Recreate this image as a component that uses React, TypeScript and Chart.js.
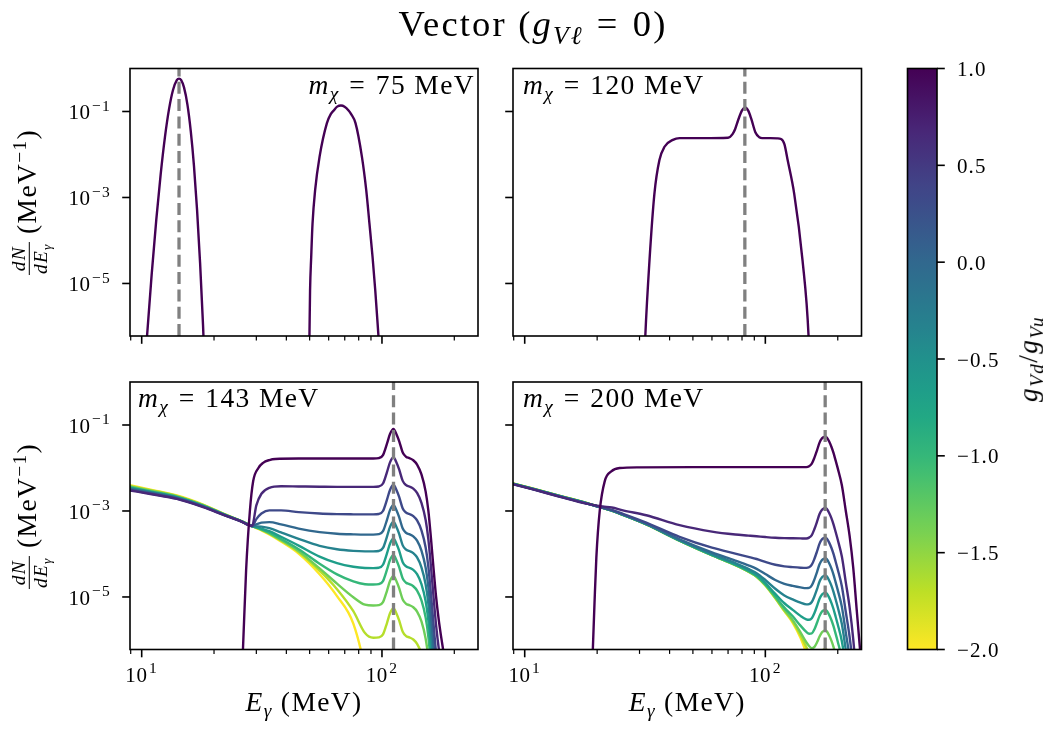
import React, { useEffect, useRef } from 'react';
import { Chart, registerables } from 'chart.js';

Chart.register(...registerables);

// ---------------- figure / axis settings ----------------
const W = 1043;
const H = 729;
const FONT = "'Liberation Serif', 'DejaVu Serif', serif";
const TICK_FS = 21;
const SUP_FS = 15.5;

const X_MIN = 8.94;
const X_MAX = 251;
const Y_MIN = 6e-7;
const Y_MAX = 1;
const X_MAJOR_TICKS = [10, 100];
const X_TICK_EXPONENTS = ['1', '2'];
const X_MINOR_TICKS = [9, 20, 30, 40, 50, 60, 70, 80, 90, 200];
const Y_TICKS = [1e-1, 1e-3, 1e-5];
const Y_TICK_EXPONENTS = ['\u22121', '\u22123', '\u22125'];

// colour bar
const CB_RANGE = [-2, 1];
const CB_TICKS = [1.0, 0.5, 0.0, -0.5, -1.0, -1.5, -2.0];
const CB_TICK_LABELS = ['1.0', '0.5', '0.0', '\u22120.5', '\u22121.0', '\u22121.5', '\u22122.0'];

// g_Vd / g_Vu values of the curves and their colours (viridis_r)
const G_RATIOS = [1, 0.667, 0.333, 0, -0.333, -0.667, -1, -1.333, -1.667, -2];
const CURVE_COLORS = ['#440154', '#482878', '#3e4989', '#31688e', '#26828e', '#1f9e89', '#35b779', '#6ece58', '#b5de2b', '#fde725'];

const MASSES = [75, 120, 143, 200];
const LINE_ENERGIES = [14.3, 82.2, 111.7, 177.3];

// ---------------- m_chi = 75 MeV (log10 dN/dE) ----------------
const TL_E = [10.2, 10.4, 11, 11.5, 12, 12.5, 13, 13.5, 14, 14.3, 14.6, 15, 15.5, 16, 16.5, 17, 17.5, 18, 18.4, 25, 40, 49.5, 49.9, 50.2, 50.75, 51.4, 52.7, 55, 59, 61.3, 63, 65.1, 67.5, 69.9, 72.6, 74.3, 77.6, 82.5, 86, 88.7, 91.4, 93.8, 96.8, 100.3];
const TL_G100 = [-7.3, -6.61, -4.8, -3.52, -2.45, -1.59, -0.94, -0.5, -0.27, -0.235, -0.27, -0.44, -0.84, -1.45, -2.26, -3.29, -4.52, -5.97, -7.28, -10, -10, -7.5, -6.26, -5.17, -4.39, -3.61, -2.83, -2.05, -1.27, -1.055, -0.976, -0.887, -0.86, -0.887, -0.976, -1.055, -1.27, -2.05, -2.83, -3.61, -4.39, -5.17, -6.26, -7.5];

// ---------------- m_chi = 120 MeV ----------------
const TR_E = [31.2, 31.7, 33, 34.6, 36.3, 38.1, 41.3, 44, 55, 70, 73.2, 75, 77, 80, 82.4, 85, 87.5, 91, 94.4, 97, 105, 112, 116.2, 120, 123.8, 131.8, 142.8, 151.3, 153.5];
const TR_G100 = [-7.3, -6.24, -4.47, -2.91, -2.13, -1.82, -1.66, -1.62, -1.62, -1.61, -1.52, -1.4, -1.21, -0.975, -0.906, -0.985, -1.18, -1.49, -1.6, -1.62, -1.62, -1.625, -1.64, -1.76, -2.13, -2.91, -4.47, -6.24, -7.3];

// ---------------- m_chi = 143 MeV ----------------
const BL1_E = [25.5, 26.4, 27.2, 28.2, 29.1, 30.6, 32, 34, 36, 45, 60, 76, 92, 97, 101, 105, 108, 111.7, 115, 118, 122, 126, 130, 135, 140, 146, 152, 156, 160, 164, 168, 172, 176, 180, 184];
const BL1_G100 = [-8, -6.2, -4.38, -3.0, -2.31, -2.0, -1.88, -1.815, -1.79, -1.78, -1.78, -1.78, -1.78, -1.77, -1.7, -1.43, -1.21, -1.09, -1.22, -1.38, -1.64, -1.74, -1.77, -1.82, -1.92, -2.15, -2.55, -3.0, -3.65, -4.35, -5.0, -5.5, -5.9, -6.25, -6.6];

const BL_E = [8.9, 11, 14, 18, 22, 26, 28.8, 30, 31.5, 34, 38, 45, 55, 65, 76, 85, 92, 97, 101, 105, 108, 111.7, 115, 118, 122, 126, 130, 135, 140, 146, 152, 156, 160, 164, 168, 172, 176, 180, 184];
const BL_G067 = [-2.52, -2.61, -2.72, -2.91, -3.095, -3.245, -3.35, -2.87, -2.6, -2.46, -2.425, -2.43, -2.436, -2.44, -2.44, -2.44, -2.44, -2.43, -2.36, -2.09, -1.87, -1.75, -1.88, -2.04, -2.3, -2.4, -2.43, -2.48, -2.58, -2.81, -3.21, -3.66, -4.31, -5.01, -5.66, -6.16, -6.56, -6.91, -7.26];
const BL_G033 = [-2.505, -2.6, -2.71, -2.9, -3.09, -3.244, -3.35, -3.19, -3.06, -2.985, -2.985, -3.026, -3.06, -3.073, -3.078, -3.08, -3.08, -3.07, -3.0, -2.73, -2.51, -2.39, -2.52, -2.68, -2.94, -3.04, -3.07, -3.12, -3.22, -3.45, -3.85, -4.3, -4.95, -5.65, -6.3, -6.8, -7.2, null, null];
const BL_G000 = [-2.49, -2.585, -2.7, -2.895, -3.088, -3.243, -3.35, -3.31, -3.27, -3.26, -3.31, -3.41, -3.492, -3.529, -3.544, -3.55, -3.55, -3.54, -3.47, -3.2, -2.98, -2.86, -2.99, -3.15, -3.41, -3.51, -3.54, -3.59, -3.69, -3.92, -4.32, -4.77, -5.42, -6.12, -6.77, -7.27, null, null, null];
const BL_GM033 = [-2.475, -2.57, -2.69, -2.885, -3.084, -3.241, -3.35, -3.357, -3.364, -3.4, -3.5, -3.648, -3.81, -3.89, -3.927, -3.939, -3.94, -3.93, -3.86, -3.59, -3.37, -3.25, -3.38, -3.54, -3.8, -3.9, -3.93, -3.98, -4.08, -4.31, -4.71, -5.16, -5.81, -6.51, -7.16, null, null, null, null];
const BL_GM067 = [-2.46, -2.56, -2.68, -2.88, -3.08, -3.24, -3.35, -3.377, -3.41, -3.47, -3.6, -3.805, -4.062, -4.215, -4.298, -4.327, -4.33, -4.32, -4.25, -3.98, -3.76, -3.64, -3.77, -3.93, -4.19, -4.29, -4.32, -4.37, -4.47, -4.7, -5.1, -5.55, -6.2, -6.9, null, null, null, null, null];
const BL_GM100 = [-2.445, -2.55, -2.67, -2.875, -3.076, -3.239, -3.35, -3.385, -3.426, -3.505, -3.65, -3.888, -4.227, -4.474, -4.637, -4.703, -4.71, -4.7, -4.63, -4.36, -4.14, -4.02, -4.15, -4.31, -4.57, -4.67, -4.7, -4.75, -4.85, -5.08, -5.48, -5.93, -6.58, -7.28, null, null, null, null, null];
const BL_GM133 = [-2.43, -2.535, -2.66, -2.865, -3.072, -3.237, -3.35, -3.384, -3.435, -3.522, -3.677, -3.934, -4.336, -4.69, -5.006, -5.18, -5.2, -5.19, -5.12, -4.85, -4.63, -4.51, -4.64, -4.8, -5.06, -5.16, -5.19, -5.24, -5.34, -5.57, -5.97, -6.42, -7.07, null, null, null, null, null, null];
const BL_GM167 = [-2.415, -2.52, -2.65, -2.86, -3.07, -3.236, -3.35, -3.386, -3.438, -3.528, -3.688, -3.954, -4.388, -4.818, -5.33, -5.84, -5.95, -5.94, -5.87, -5.6, -5.38, -5.26, -5.39, -5.55, -5.81, -5.91, -5.94, -5.99, -6.09, -6.32, -6.72, -7.17, null, null, null, null, null, null, null];
const BL_GM200 = [-2.4, -2.51, -2.64, -2.85, -3.065, -3.235, -3.35, -3.4, -3.45, -3.545, -3.71, -3.99, -4.47, -4.98, -5.62, -6.7, -8, null, null, null, null, null, null, null, null, null, null, null, null, null, null, null, null, null, null, null, null, null, null];

// ---------------- m_chi = 200 MeV ----------------
const BR1_E = [18.8, 19.2, 19.5, 19.85, 20.5, 21.5, 22.9, 24.8, 30, 50, 80, 120, 148, 152, 156, 160, 164, 168, 172, 175, 177.4, 180, 184, 188, 192, 196, 200, 208, 216, 224, 232, 240, 248, 256];
const BR1_G100 = [-7.5, -6.19, -5.15, -4.08, -3.0, -2.31, -2.08, -2.0, -1.985, -1.98, -1.98, -1.98, -1.98, -1.96, -1.9, -1.76, -1.59, -1.41, -1.31, -1.28, -1.27, -1.29, -1.38, -1.5, -1.65, -1.83, -2.01, -2.4, -3.0, -3.58, -4.33, -5.33, -6.28, -7.18];

const BR_E = [8.94, 11, 14, 18, 21.1, 23, 25.6, 32, 44, 60, 75, 85, 92, 100, 110, 120, 130, 140, 148, 152, 156, 160, 164, 168, 172, 175, 177.4, 180, 184, 188, 192, 196, 200, 208, 216, 224, 232, 240, 248, 256];
const BR_G067 = [-2.38, -2.51, -2.67, -2.83, -2.894, -2.919, -2.986, -3.1, -3.33, -3.48, -3.547, -3.572, -3.588, -3.606, -3.623, -3.631, -3.635, -3.638, -3.64, -3.62, -3.56, -3.42, -3.25, -3.07, -2.97, -2.94, -2.93, -2.95, -3.04, -3.16, -3.31, -3.49, -3.67, -4.06, -4.66, -5.24, -5.99, -6.99, -7.94, null];
const BR_G033 = [-2.375, -2.505, -2.665, -2.825, -2.922, -2.975, -3.066, -3.27, -3.6, -3.854, -3.992, -4.067, -4.117, -4.184, -4.251, -4.288, -4.306, -4.319, -4.324, -4.31, -4.25, -4.11, -3.94, -3.76, -3.66, -3.63, -3.62, -3.64, -3.73, -3.85, -4.0, -4.18, -4.36, -4.75, -5.35, -5.93, -6.68, -7.68, null, null];
const BR_G000 = [-2.37, -2.5, -2.66, -2.82, -2.927, -2.985, -3.082, -3.297, -3.659, -3.963, -4.152, -4.264, -4.347, -4.467, -4.605, -4.695, -4.742, -4.777, -4.794, -4.79, -4.73, -4.59, -4.42, -4.24, -4.14, -4.11, -4.1, -4.12, -4.21, -4.33, -4.48, -4.66, -4.84, -5.23, -5.83, -6.41, -7.16, null, null, null];
const BR_GM033 = [-2.368, -2.498, -2.658, -2.818, -2.929, -2.988, -3.087, -3.304, -3.677, -4.002, -4.213, -4.346, -4.447, -4.606, -4.81, -4.965, -5.058, -5.134, -5.172, -5.166, -5.116, -4.983, -4.82, -4.64, -4.54, -4.51, -4.5, -4.52, -4.61, -4.73, -4.88, -5.06, -5.24, -5.63, -6.23, -6.81, null, null, null, null];
const BR_GM067 = [-2.366, -2.496, -2.656, -2.816, -2.93, -2.99, -3.089, -3.308, -3.685, -4.019, -4.24, -4.383, -4.495, -4.677, -4.928, -5.146, -5.299, -5.44, -5.52, -5.53, -5.495, -5.374, -5.21, -5.04, -4.94, -4.91, -4.9, -4.92, -5.01, -5.13, -5.28, -5.46, -5.64, -6.03, -6.63, null, null, null, null, null];
const BR_GM100 = [-2.364, -2.494, -2.654, -2.814, -2.93, -2.99, -3.09, -3.309, -3.688, -4.026, -4.252, -4.399, -4.516, -4.708, -4.987, -5.247, -5.45, -5.667, -5.812, -5.854, -5.848, -5.75, -5.6, -5.44, -5.34, -5.31, -5.3, -5.32, -5.41, -5.53, -5.68, -5.86, -6.04, -6.43, -7.03, null, null, null, null, null];
const BR_GM133 = [-2.362, -2.492, -2.652, -2.812, -2.93, -2.99, -3.09, -3.31, -3.69, -4.029, -4.257, -4.407, -4.526, -4.723, -5.015, -5.3, -5.539, -5.824, -6.053, -6.14, -6.19, -6.16, -6.055, -5.92, -5.82, -5.79, -5.78, -5.8, -5.89, -6.01, -6.16, -6.34, -6.52, -6.91, null, null, null, null, null, null];
const BR_GM167 = [-2.36, -2.49, -2.65, -2.81, -2.93, -2.99, -3.09, -3.31, -3.69, -4.03, -4.259, -4.409, -4.529, -4.728, -5.025, -5.319, -5.57, -5.888, -6.166, -6.3, -6.4, -6.45, -6.42, -6.35, -6.25, -6.22, -6.21, -6.23, -6.32, -6.44, -6.59, -6.77, null, null, null, null, null, null, null, null];
const BR_GM200 = [-2.358, -2.488, -2.648, -2.808, -2.93, -2.99, -3.09, -3.31, -3.69, -4.03, -4.26, -4.41, -4.53, -4.73, -5.03, -5.33, -5.6, -5.95, -6.3, -6.5, -6.7, null, null, null, null, null, null, null, null, null, null, null, null, null, null, null, null, null, null, null];

const BL_SERIES = [BL_G067, BL_G033, BL_G000, BL_GM033, BL_GM067, BL_GM100, BL_GM133, BL_GM167, BL_GM200];
const BR_SERIES = [BR_G067, BR_G033, BR_G000, BR_GM033, BR_GM067, BR_GM100, BR_GM133, BR_GM167, BR_GM200];

const VIRIDIS_STOPS: [number, string][] = [
  [0, '#440154'], [0.1, '#482475'], [0.111, '#482878'], [0.2, '#414487'], [0.222, '#3e4989'],
  [0.3, '#355f8d'], [0.333, '#31688e'], [0.4, '#2a788e'], [0.444, '#26828e'], [0.5, '#21918c'],
  [0.556, '#1f9e89'], [0.6, '#22a884'], [0.667, '#35b779'], [0.7, '#44bf70'], [0.778, '#6ece58'],
  [0.8, '#7ad151'], [0.889, '#b5de2b'], [0.9, '#bddf26'], [1, '#fde725'],
];

// ---------------- layout ----------------
type Rect = { left: number; top: number; right: number; bottom: number };
type Curve = { E: number[]; logN: (number | null)[]; color: string; order: number };
type PanelDef = { rect: Rect; lineE: number; curves: Curve[]; xLabels: boolean; yLabels: boolean };

const R_TL: Rect = { left: 130, top: 68.5, right: 478, bottom: 336 };
const R_TR: Rect = { left: 513, top: 68.5, right: 861.5, bottom: 336 };
const R_BL: Rect = { left: 130, top: 382, right: 478, bottom: 649.5 };
const R_BR: Rect = { left: 513, top: 382, right: 861.5, bottom: 649.5 };
const R_CB: Rect = { left: 907.5, top: 68.5, right: 937, bottom: 649.5 };

const familyCurves = (E1: number[], L1: number[], E: number[], series: (number | null)[][]): Curve[] => [
  { E: E1, logN: L1, color: CURVE_COLORS[0], order: 1 },
  ...series.map((s, i) => ({ E, logN: s, color: CURVE_COLORS[i + 1], order: i + 2 })),
];

const PANELS: PanelDef[] = [
  { rect: R_TL, lineE: LINE_ENERGIES[0], curves: [{ E: TL_E, logN: TL_G100, color: CURVE_COLORS[0], order: 1 }], xLabels: false, yLabels: true },
  { rect: R_TR, lineE: LINE_ENERGIES[1], curves: [{ E: TR_E, logN: TR_G100, color: CURVE_COLORS[0], order: 1 }], xLabels: false, yLabels: false },
  { rect: R_BL, lineE: LINE_ENERGIES[2], curves: familyCurves(BL1_E, BL1_G100, BL_E, BL_SERIES), xLabels: true, yLabels: true },
  { rect: R_BR, lineE: LINE_ENERGIES[3], curves: familyCurves(BR1_E, BR1_G100, BR_E, BR_SERIES), xLabels: true, yLabels: false },
];

const toPoints = (E: number[], L: (number | null)[]) => {
  const out: { x: number; y: number }[] = [];
  E.forEach((e, i) => {
    const v = L[i];
    if (v !== null && v !== undefined) out.push({ x: e, y: Math.pow(10, v) });
  });
  return out;
};

function setSpacing(ctx: any, px: number) {
  if ('letterSpacing' in ctx) ctx.letterSpacing = `${px}px`;
}

function drawPow(ctx: CanvasRenderingContext2D, exp: string, x: number, baseY: number, align: 'right' | 'center') {
  const baseFont = `${TICK_FS}px ${FONT}`;
  const supFont = `${SUP_FS}px ${FONT}`;
  setSpacing(ctx, 0.6);
  ctx.font = baseFont;
  const wb = ctx.measureText('10').width;
  setSpacing(ctx, 1.2);
  ctx.font = supFont;
  const we = ctx.measureText(exp).width;
  const gap = 1.5;
  const total = wb + gap + we;
  const x0 = align === 'right' ? x - total : x - total / 2;
  ctx.textAlign = 'left';
  ctx.textBaseline = 'alphabetic';
  ctx.fillStyle = '#000';
  setSpacing(ctx, 0.6);
  ctx.font = baseFont;
  ctx.fillText('10', x0, baseY);
  setSpacing(ctx, 1.2);
  ctx.font = supFont;
  ctx.fillText(exp, x0 + wb + gap, baseY - 8.5);
  setSpacing(ctx, 0);
}

function line(ctx: CanvasRenderingContext2D, x1: number, y1: number, x2: number, y2: number) {
  ctx.beginPath();
  ctx.moveTo(x1, y1);
  ctx.lineTo(x2, y2);
  ctx.stroke();
}

function decoPlugin(def: PanelDef) {
  return {
    id: 'panelDeco',
    afterDraw(chart: any) {
      const { ctx, chartArea: a } = chart;
      const xs = chart.scales.x;
      const ys = chart.scales.y;
      ctx.save();
      ctx.strokeStyle = '#000';
      ctx.lineWidth = 1.6;
      ctx.strokeRect(a.left, a.top, a.right - a.left, a.bottom - a.top);
      X_MAJOR_TICKS.forEach((v, i) => {
        const px = xs.getPixelForValue(v);
        ctx.lineWidth = 1.6;
        line(ctx, px, a.bottom, px, a.bottom + 7.8);
        if (def.xLabels) drawPow(ctx, X_TICK_EXPONENTS[i], px, a.bottom + 32, 'center');
      });
      ctx.lineWidth = 1.2;
      X_MINOR_TICKS.forEach((v) => {
        const px = xs.getPixelForValue(v);
        if (px >= a.left - 0.5 && px <= a.right + 0.5) line(ctx, px, a.bottom, px, a.bottom + 4.4);
      });
      Y_TICKS.forEach((v, i) => {
        const py = ys.getPixelForValue(v);
        ctx.lineWidth = 1.6;
        line(ctx, a.left - 7.8, py, a.left, py);
        if (def.yLabels) drawPow(ctx, Y_TICK_EXPONENTS[i], a.left - 19, py + 8, 'right');
      });
      ctx.restore();
    },
  };
}

function buildPanelConfig(def: PanelDef): any {
  const r = def.rect;
  const datasets: any[] = [
    {
      data: [{ x: def.lineE, y: Y_MIN }, { x: def.lineE, y: Y_MAX }],
      borderColor: '#808080',
      borderWidth: 3.3,
      borderDash: [12, 5.3],
      pointRadius: 0,
      tension: 0,
      order: 0,
      clip: 0,
    },
    ...def.curves.map((c) => ({
      data: toPoints(c.E, c.logN),
      borderColor: c.color,
      borderWidth: 2.4,
      borderJoinStyle: 'round',
      pointRadius: 0,
      cubicInterpolationMode: 'monotone',
      order: c.order,
      clip: 0,
    })),
  ];
  return {
    type: 'line',
    data: { datasets },
    options: {
      animation: false,
      responsive: false,
      maintainAspectRatio: false,
      devicePixelRatio: 1,
      events: [],
      layout: { padding: { left: r.left, top: r.top, right: W - r.right, bottom: H - r.bottom } },
      plugins: { legend: { display: false }, tooltip: { enabled: false }, title: { display: false } },
      scales: {
        x: { type: 'logarithmic', min: X_MIN, max: X_MAX, display: false },
        y: { type: 'logarithmic', min: Y_MIN, max: Y_MAX, display: false },
      },
    },
    plugins: [decoPlugin(def)],
  };
}

const cbPlugin = {
  id: 'cbDeco',
  afterDraw(chart: any) {
    const { ctx, chartArea: a } = chart;
    const ys = chart.scales.y;
    ctx.save();
    ctx.strokeStyle = '#000';
    ctx.lineWidth = 1.6;
    ctx.strokeRect(a.left, a.top, a.right - a.left, a.bottom - a.top);
    ctx.fillStyle = '#000';
    ctx.font = `${TICK_FS}px ${FONT}`;
    setSpacing(ctx, 1.1);
    ctx.textAlign = 'left';
    ctx.textBaseline = 'alphabetic';
    CB_TICKS.forEach((v, i) => {
      const py = ys.getPixelForValue(v);
      line(ctx, a.right, py, a.right + 7.8, py);
      ctx.fillText(CB_TICK_LABELS[i], a.right + 20, py + 7.5);
    });
    setSpacing(ctx, 0);
    ctx.restore();
  },
};

function buildColorbarConfig(): any {
  const r = R_CB;
  return {
    type: 'bar',
    data: {
      labels: ['g'],
      datasets: [
        {
          data: [CB_RANGE],
          backgroundColor: (c: any) => {
            const { chart } = c;
            const area = chart.chartArea;
            if (!area) return CURVE_COLORS[0];
            const g = chart.ctx.createLinearGradient(0, area.top, 0, area.bottom);
            VIRIDIS_STOPS.forEach(([t, col]) => g.addColorStop(t, col));
            return g;
          },
          borderWidth: 0,
          barPercentage: 1,
          categoryPercentage: 1,
          inflateAmount: 0,
        },
      ],
    },
    options: {
      animation: false,
      responsive: false,
      maintainAspectRatio: false,
      devicePixelRatio: 1,
      events: [],
      layout: { padding: { left: r.left, top: r.top, right: W - r.right, bottom: H - r.bottom } },
      plugins: { legend: { display: false }, tooltip: { enabled: false } },
      scales: {
        x: { display: false },
        y: { type: 'linear', min: CB_RANGE[0], max: CB_RANGE[1], display: false },
      },
    },
    plugins: [cbPlugin],
  };
}

function ChartCanvas({ build }: { build: () => any }) {
  const ref = useRef<HTMLCanvasElement | null>(null);
  useEffect(() => {
    const canvas = ref.current;
    if (!canvas) return;
    const chart = new Chart(canvas, build());
    return () => chart.destroy();
  }, [build]);
  return <canvas ref={ref} width={W} height={H} style={{ position: 'absolute', left: 0, top: 0, width: W, height: H }} />;
}

// ---------------- text helpers ----------------
const Sub = ({ children }: { children: React.ReactNode }) => (
  <span style={{ fontSize: '0.7em', position: 'relative', top: '0.3em', lineHeight: 0 }}>{children}</span>
);
const Sup = ({ children }: { children: React.ReactNode }) => (
  <span style={{ fontSize: '0.7em', position: 'relative', top: '-0.55em', lineHeight: 0 }}>{children}</span>
);

function TextAt({ x, baseline, size, spacing, align = 'left', children }: { x: number; baseline: number; size: number; spacing: number; align?: 'left' | 'right' | 'center'; children: React.ReactNode }) {
  const tx = align === 'left' ? '0' : align === 'right' ? '-100%' : '-50%';
  return (
    <div style={{ position: 'absolute', left: x, top: baseline - 0.8375 * size, fontSize: size, lineHeight: `${size}px`, letterSpacing: `${spacing}em`, whiteSpace: 'nowrap', transform: `translateX(${tx})` }}>
      {children}
    </div>
  );
}

function RotatedAt({ cx, cy, size, spacing, children }: { cx: number; cy: number; size: number; spacing: number; children: React.ReactNode }) {
  return (
    <div style={{ position: 'absolute', left: cx, top: cy, fontSize: size, lineHeight: `${size}px`, letterSpacing: `${spacing}em`, whiteSpace: 'nowrap', transform: 'translate(-50%, -50%) rotate(-90deg)' }}>
      {children}
    </div>
  );
}

const EQ = ({ children }: { children: React.ReactNode }) => <span style={{ padding: '0 0.05em' }}>{children}</span>;

const MassLabel = ({ m }: { m: number }) => (
  <>
    <i>m</i>
    <Sub><i>χ</i></Sub> <EQ>=</EQ> {m} MeV
  </>
);

const YLabel = () => (
  <>
    <span style={{ display: 'inline-flex', flexDirection: 'column', alignItems: 'center', verticalAlign: 'middle', fontSize: '0.7em', lineHeight: 1.05 }}>
      <span style={{ padding: '0 1px' }}><i>dN</i></span>
      <span style={{ borderTop: '1.2px solid #000', padding: '1px 1px 0' }}>
        <i>dE</i>
        <Sub><i>γ</i></Sub>
      </span>
    </span>
    {' '}(MeV<Sup>−1</Sup>)
  </>
);

const XLabel = () => (
  <>
    <i>E</i>
    <Sub><i>γ</i></Sub> (MeV)
  </>
);

const builders = PANELS.map((p) => () => buildPanelConfig(p));

export default function App() {
  const LS = 27.5;
  const SP = 0.05;
  return (
    <div style={{ position: 'absolute', left: 0, top: 0, width: W, height: H, background: '#fff', fontFamily: FONT, color: '#000', overflow: 'hidden' }}>
      {builders.map((b, i) => (
        <ChartCanvas key={i} build={b} />
      ))}
      <ChartCanvas build={buildColorbarConfig} />

      <TextAt x={533} baseline={37} size={36.5} spacing={0.06} align="center">
        Vector (<i>g</i>
        <Sub><i>Vℓ</i></Sub> <EQ>=</EQ> 0)
      </TextAt>

      <TextAt x={475} baseline={94} size={LS} spacing={SP} align="right"><MassLabel m={MASSES[0]} /></TextAt>
      <TextAt x={523} baseline={94} size={LS} spacing={SP}><MassLabel m={MASSES[1]} /></TextAt>
      <TextAt x={138} baseline={407} size={LS} spacing={SP}><MassLabel m={MASSES[2]} /></TextAt>
      <TextAt x={523} baseline={407} size={LS} spacing={SP}><MassLabel m={MASSES[3]} /></TextAt>

      <TextAt x={(R_BL.left + R_BL.right) / 2} baseline={711} size={LS} spacing={SP} align="center"><XLabel /></TextAt>
      <TextAt x={(R_BR.left + R_BR.right) / 2} baseline={711} size={LS} spacing={SP} align="center"><XLabel /></TextAt>

      <RotatedAt cx={30} cy={(R_TL.top + R_TL.bottom) / 2} size={LS} spacing={SP}><YLabel /></RotatedAt>
      <RotatedAt cx={30} cy={(R_BL.top + R_BL.bottom) / 2} size={LS} spacing={SP}><YLabel /></RotatedAt>

      <RotatedAt cx={1028} cy={(R_CB.top + R_CB.bottom) / 2} size={LS} spacing={SP}>
        <i>g</i>
        <Sub><i>Vd</i></Sub>/<i>g</i>
        <Sub><i>Vu</i></Sub>
      </RotatedAt>
      <span style={{ display: 'none' }}>{G_RATIOS.join(',')}</span>
    </div>
  );
}
